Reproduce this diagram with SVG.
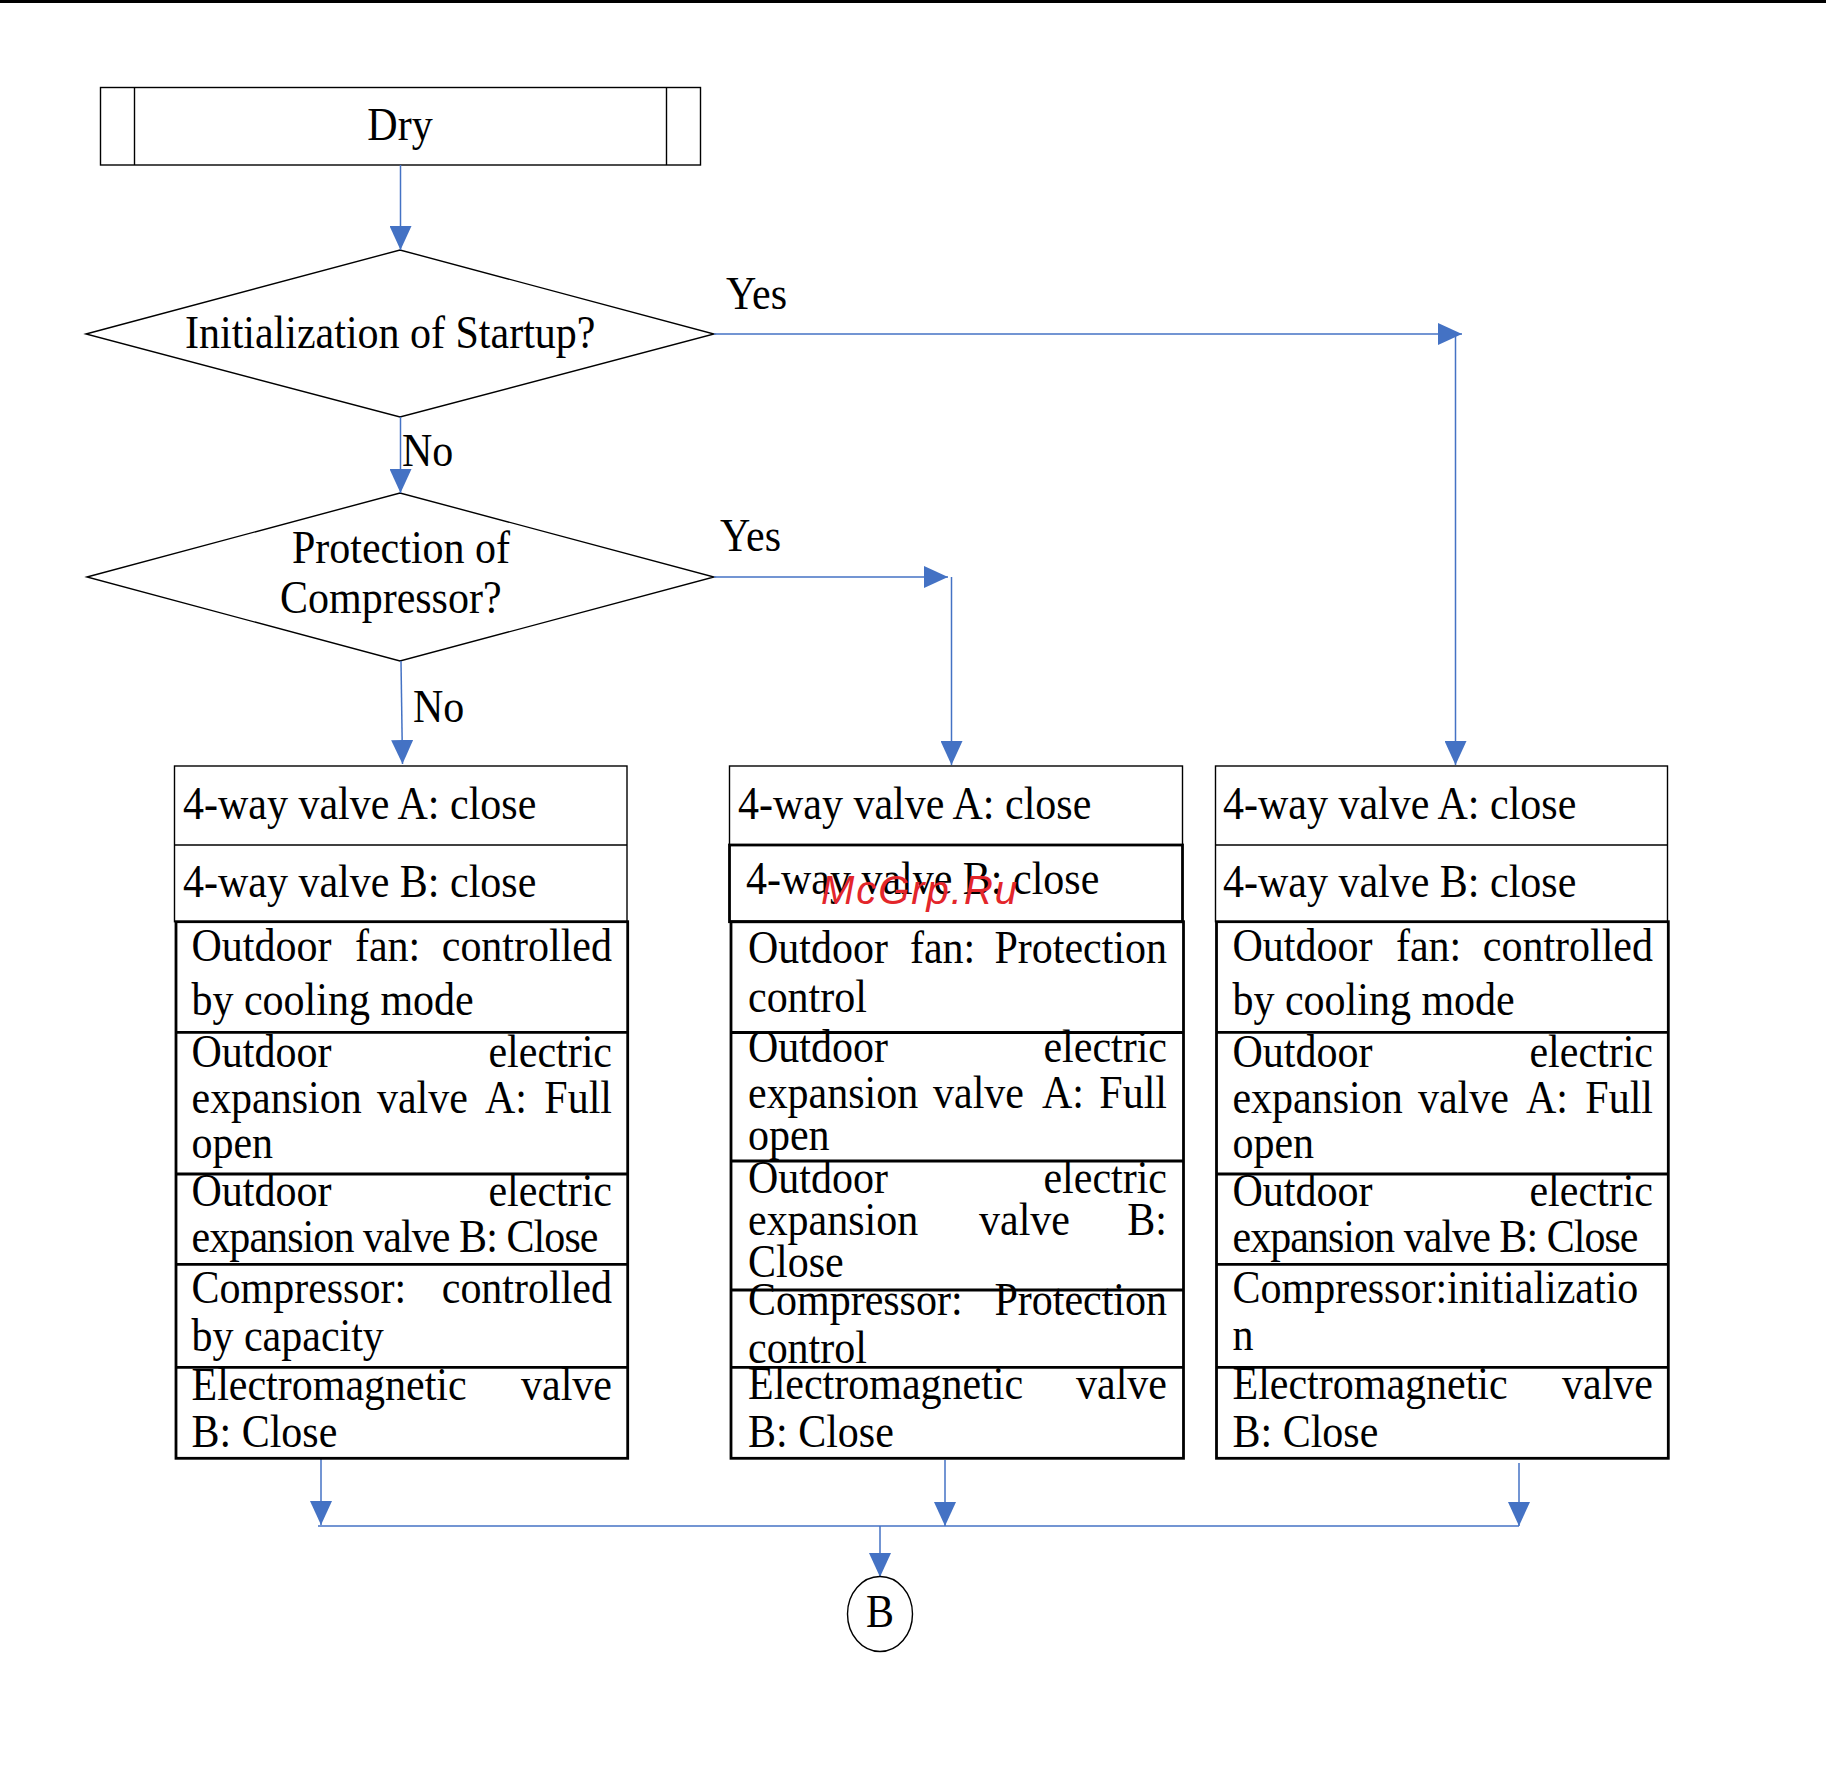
<svg xmlns="http://www.w3.org/2000/svg" width="1826" height="1780" viewBox="0 0 1826 1780">
<style>
text{font-family:"Liberation Serif","Times New Roman",serif;font-size:42px;fill:#000}
.e{text-anchor:end}
.m{text-anchor:middle}
.thin{fill:none;stroke:#000;stroke-width:1.4}
.thick{fill:none;stroke:#000;stroke-width:2.8}
.c{fill:none;stroke:#4472C4;stroke-width:1.5;marker-end:url(#arr)}
.cl{fill:none;stroke:#4472C4;stroke-width:1.5}
.wm{font-family:"Liberation Sans",Arial,sans-serif;font-style:italic;font-size:40px;fill:#E3262B}
</style>
<defs>
<marker id="arr" viewBox="0 0 24 22" markerWidth="24" markerHeight="22" refX="24" refY="11" orient="auto" markerUnits="userSpaceOnUse">
<path d="M0,0 L24,11 L0,22 z" fill="#4472C4"/>
</marker>
</defs>
<rect x="0" y="0" width="1826" height="3" fill="#000"/>

<g id="dry">
<rect class="thin" x="100.5" y="87.5" width="600" height="77.5"/>
<line class="thin" x1="134.5" y1="87.5" x2="134.5" y2="165"/>
<line class="thin" x1="666.5" y1="87.5" x2="666.5" y2="165"/>
<text class="m" x="400" y="140" transform="matrix(1 0 0 1.08 0 -11.2)">Dry</text>
</g>

<g id="init">
<polygon class="thin" points="86,334 400,250 714,334 400,417"/>
<text x="185" y="348" transform="matrix(1 0 0 1.08 0 -27.84)">Initialization of Startup?</text>
</g>

<g id="protect">
<polygon class="thin" points="87,577 400,493 714,577 400,661"/>
<text x="292" y="563" transform="matrix(1 0 0 1.08 0 -45.04)">Protection of</text>
<text x="280" y="613" transform="matrix(1 0 0 1.08 0 -49.04)">Compressor?</text>
</g>

<g id="labels">
<text x="726" y="309" transform="matrix(1 0 0 1.08 0 -24.72)">Yes</text>
<text x="720" y="551" transform="matrix(1 0 0 1.08 0 -44.08)">Yes</text>
<text x="402" y="466" transform="matrix(1 0 0 1.08 0 -37.28)">No</text>
<text x="413" y="722" transform="matrix(1 0 0 1.08 0 -57.76)">No</text>
</g>

<g id="connectors">
<line class="c" x1="400.5" y1="165" x2="400.5" y2="250"/>
<line class="c" x1="400.5" y1="417" x2="400.5" y2="493"/>
<line class="c" x1="714" y1="334" x2="1462" y2="334"/>
<line class="c" x1="1455.5" y1="334" x2="1455.5" y2="765"/>
<line class="c" x1="714" y1="577" x2="948" y2="577"/>
<line class="c" x1="951.5" y1="577" x2="951.5" y2="765"/>
<line class="c" x1="401" y1="661" x2="402.5" y2="764"/>
<line class="c" x1="321" y1="1459" x2="321" y2="1525"/>
<line class="c" x1="945" y1="1460" x2="945" y2="1526"/>
<line class="c" x1="1519" y1="1463" x2="1519" y2="1526"/>
<line class="cl" x1="318" y1="1526" x2="1519" y2="1526"/>
<line class="c" x1="880" y1="1526" x2="880" y2="1577"/>
</g>

<g id="col1">
<rect class="thin" x="174.5" y="766" width="452.5" height="155.7"/>
<line class="thin" x1="174.5" y1="845" x2="627" y2="845"/>
<rect class="thick" x="176" y="921.7" width="451.7" height="536.6"/>
<line class="thick" x1="176" y1="1032.3" x2="627.7" y2="1032.3"/>
<line class="thick" x1="176" y1="1174" x2="627.7" y2="1174"/>
<line class="thick" x1="176" y1="1264.4" x2="627.7" y2="1264.4"/>
<line class="thick" x1="176" y1="1367.4" x2="627.7" y2="1367.4"/>
<text x="183" y="819" transform="matrix(1 0 0 1.08 0 -65.52)">4-way valve A: close</text>
<text x="183" y="897" transform="matrix(1 0 0 1.08 0 -71.76)">4-way valve B: close</text>
<g transform="matrix(1 0 0 1.08 0 -76.88)"><text x="191.5" y="961">Outdoor</text><text x="355" y="961">fan:</text><text class="e" x="612" y="961">controlled</text></g>
<text x="191.5" y="1015" transform="matrix(1 0 0 1.08 0 -81.2)">by cooling mode</text>
<g transform="matrix(1 0 0 1.08 0 -85.36)"><text x="191.5" y="1067">Outdoor</text><text class="e" x="612" y="1067">electric</text></g>
<g transform="matrix(1 0 0 1.08 0 -89.04)"><text x="191.5" y="1113">expansion</text><text x="377" y="1113">valve</text><text x="485" y="1113">A:</text><text class="e" x="612" y="1113">Full</text></g>
<text x="191.5" y="1158" transform="matrix(1 0 0 1.08 0 -92.64)">open</text>
<g transform="matrix(1 0 0 1.08 0 -96.48)"><text x="191.5" y="1206">Outdoor</text><text class="e" x="612" y="1206">electric</text></g>
<text x="191.5" y="1252" textLength="407" lengthAdjust="spacing" transform="matrix(1 0 0 1.08 0 -100.16)">expansion valve B: Close</text>
<g transform="matrix(1 0 0 1.08 0 -104.24)"><text x="191.5" y="1303">Compressor:</text><text class="e" x="612" y="1303">controlled</text></g>
<text x="191.5" y="1351" transform="matrix(1 0 0 1.08 0 -108.08)">by capacity</text>
<g transform="matrix(1 0 0 1.08 0 -112)"><text x="191.5" y="1400">Electromagnetic</text><text class="e" x="612" y="1400">valve</text></g>
<text x="191.5" y="1447" transform="matrix(1 0 0 1.08 0 -115.76)">B: Close</text>
</g>

<g id="col2">
<rect class="thin" x="729.5" y="766" width="453" height="79"/>
<rect class="thick" x="729.5" y="845" width="453" height="76.7"/>
<rect class="thick" x="731" y="921.7" width="452.5" height="536.6"/>
<line class="thick" x1="731" y1="1032.5" x2="1183.5" y2="1032.5"/>
<line class="thick" x1="731" y1="1161" x2="1183.5" y2="1161"/>
<line class="thick" x1="731" y1="1290" x2="1183.5" y2="1290"/>
<line class="thick" x1="731" y1="1367.4" x2="1183.5" y2="1367.4"/>
<text x="738" y="819" transform="matrix(1 0 0 1.08 0 -65.52)">4-way valve A: close</text>
<text x="746" y="894" transform="matrix(1 0 0 1.08 0 -71.52)">4-way valve B: close</text>
<text class="wm" x="821" y="904" textLength="196" lengthAdjust="spacing">McGrp.Ru</text>
<g transform="matrix(1 0 0 1.08 0 -77.04)"><text x="748" y="963">Outdoor</text><text x="910" y="963">fan:</text><text class="e" x="1167" y="963">Protection</text></g>
<text x="748" y="1012" transform="matrix(1 0 0 1.08 0 -80.96)">control</text>
<g transform="matrix(1 0 0 1.08 0 -84.96)"><text x="748" y="1062">Outdoor</text><text class="e" x="1167" y="1062">electric</text></g>
<g transform="matrix(1 0 0 1.08 0 -88.64)"><text x="748" y="1108">expansion</text><text x="933" y="1108">valve</text><text x="1042" y="1108">A:</text><text class="e" x="1167" y="1108">Full</text></g>
<text x="748" y="1150" transform="matrix(1 0 0 1.08 0 -92)">open</text>
<g transform="matrix(1 0 0 1.08 0 -95.44)"><text x="748" y="1193">Outdoor</text><text class="e" x="1167" y="1193">electric</text></g>
<g transform="matrix(1 0 0 1.08 0 -98.8)"><text x="748" y="1235">expansion</text><text x="979" y="1235">valve</text><text class="e" x="1167" y="1235">B:</text></g>
<text x="748" y="1277" transform="matrix(1 0 0 1.08 0 -102.16)">Close</text>
<g transform="matrix(1 0 0 1.08 0 -105.2)"><text x="748" y="1315">Compressor:</text><text class="e" x="1167" y="1315">Protection</text></g>
<text x="748" y="1363" transform="matrix(1 0 0 1.08 0 -109.04)">control</text>
<g transform="matrix(1 0 0 1.08 0 -111.92)"><text x="748" y="1399">Electromagnetic</text><text class="e" x="1167" y="1399">valve</text></g>
<text x="748" y="1447" transform="matrix(1 0 0 1.08 0 -115.76)">B: Close</text>
</g>

<g id="col3">
<rect class="thin" x="1215.5" y="766" width="452" height="155.7"/>
<line class="thin" x1="1215.5" y1="845" x2="1667.5" y2="845"/>
<rect class="thick" x="1216.5" y="921.7" width="451.8" height="536.6"/>
<line class="thick" x1="1216.5" y1="1032.3" x2="1668.3" y2="1032.3"/>
<line class="thick" x1="1216.5" y1="1174" x2="1668.3" y2="1174"/>
<line class="thick" x1="1216.5" y1="1264.4" x2="1668.3" y2="1264.4"/>
<line class="thick" x1="1216.5" y1="1367.4" x2="1668.3" y2="1367.4"/>
<text x="1223" y="819" transform="matrix(1 0 0 1.08 0 -65.52)">4-way valve A: close</text>
<text x="1223" y="897" transform="matrix(1 0 0 1.08 0 -71.76)">4-way valve B: close</text>
<g transform="matrix(1 0 0 1.08 0 -76.88)"><text x="1232.5" y="961">Outdoor</text><text x="1396" y="961">fan:</text><text class="e" x="1653" y="961">controlled</text></g>
<text x="1232.5" y="1015" transform="matrix(1 0 0 1.08 0 -81.2)">by cooling mode</text>
<g transform="matrix(1 0 0 1.08 0 -85.36)"><text x="1232.5" y="1067">Outdoor</text><text class="e" x="1653" y="1067">electric</text></g>
<g transform="matrix(1 0 0 1.08 0 -89.04)"><text x="1232.5" y="1113">expansion</text><text x="1418" y="1113">valve</text><text x="1526" y="1113">A:</text><text class="e" x="1653" y="1113">Full</text></g>
<text x="1232.5" y="1158" transform="matrix(1 0 0 1.08 0 -92.64)">open</text>
<g transform="matrix(1 0 0 1.08 0 -96.48)"><text x="1232.5" y="1206">Outdoor</text><text class="e" x="1653" y="1206">electric</text></g>
<text x="1232.5" y="1252" textLength="406" lengthAdjust="spacing" transform="matrix(1 0 0 1.08 0 -100.16)">expansion valve B: Close</text>
<text x="1232.5" y="1303" transform="matrix(1 0 0 1.08 0 -104.24)">Compressor:initializatio</text>
<text x="1232.5" y="1350" transform="matrix(1 0 0 1.08 0 -108)">n</text>
<g transform="matrix(1 0 0 1.08 0 -111.92)"><text x="1232.5" y="1399">Electromagnetic</text><text class="e" x="1653" y="1399">valve</text></g>
<text x="1232.5" y="1447" transform="matrix(1 0 0 1.08 0 -115.76)">B: Close</text>
</g>

<g id="connB">
<ellipse class="thin" cx="880" cy="1614" rx="32.5" ry="37.5" stroke-width="1.2"/>
<text class="m" x="880" y="1627" transform="matrix(1 0 0 1.08 0 -130.16)">B</text>
</g>
</svg>
